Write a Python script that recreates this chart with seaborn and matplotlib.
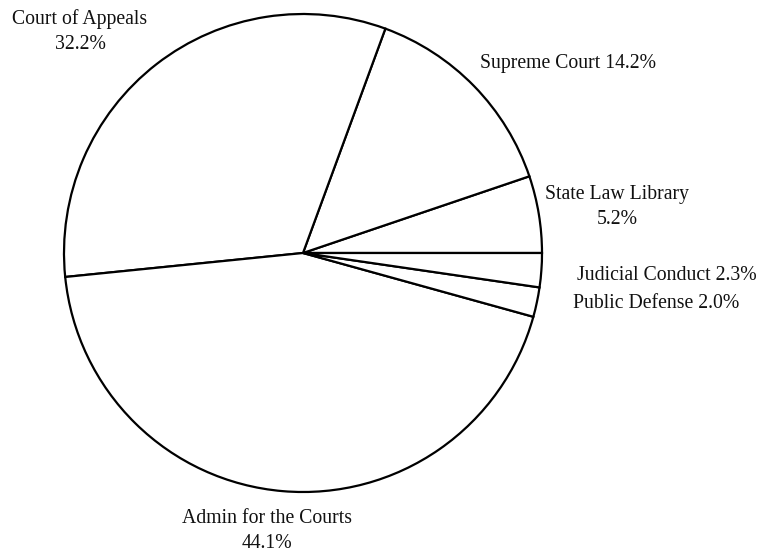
import matplotlib
matplotlib.use("Agg")
import matplotlib.pyplot as plt
import seaborn as sns

# Data (counter-clockwise from 3 o'clock)
categories = ["State Law Library", "Supreme Court", "Court of Appeals",
              "Admin for the Courts", "Public Defense", "Judicial Conduct"]
shares = [5.2, 14.2, 32.2, 44.1, 2.0, 2.3]
label_texts = ["State Law Library\n5.2%", "Supreme Court 14.2%", "Court of Appeals\n32.2%",
               "Admin for the Courts\n44.1%", "Public Defense 2.0%", "Judicial Conduct 2.3%"]

sns.set_theme(style="white")
plt.rcParams["font.family"] = ["Liberation Serif", "DejaVu Serif"]

W, H = 770, 553
CX, CY, R = 303, 253, 239  # pie centre / radius in pixels

fig = plt.figure(figsize=(W / 100, H / 100), dpi=100)
ax = fig.add_axes([0, 0, 1, 1])

wedges, _ = ax.pie(shares, startangle=0, counterclock=True, radius=1,
                   colors=["white"] * len(shares),
                   wedgeprops=dict(edgecolor="black", linewidth=1.6))

ax.set_xlim(-CX / R, (W - CX) / R)
ax.set_ylim(-(H - CY) / R, CY / R)
ax.set_aspect("equal")
ax.axis("off")

# label anchor positions in pixels (x centre, baseline of last line)
label_px = [(617, 224), (568, 68), (80, 49), (267, 548), (656, 308), (667, 280)]

def to_data(px, py):
    return (px - CX) / R, (CY - py) / R

for txt, (px, py) in zip(label_texts, label_px):
    x, y = to_data(px, py)
    ax.text(x, y, txt, ha="center", va="baseline", fontsize=14.2,
            linespacing=1.4, multialignment="center", color="#111111")

fig.savefig("out.png", dpi=100)
